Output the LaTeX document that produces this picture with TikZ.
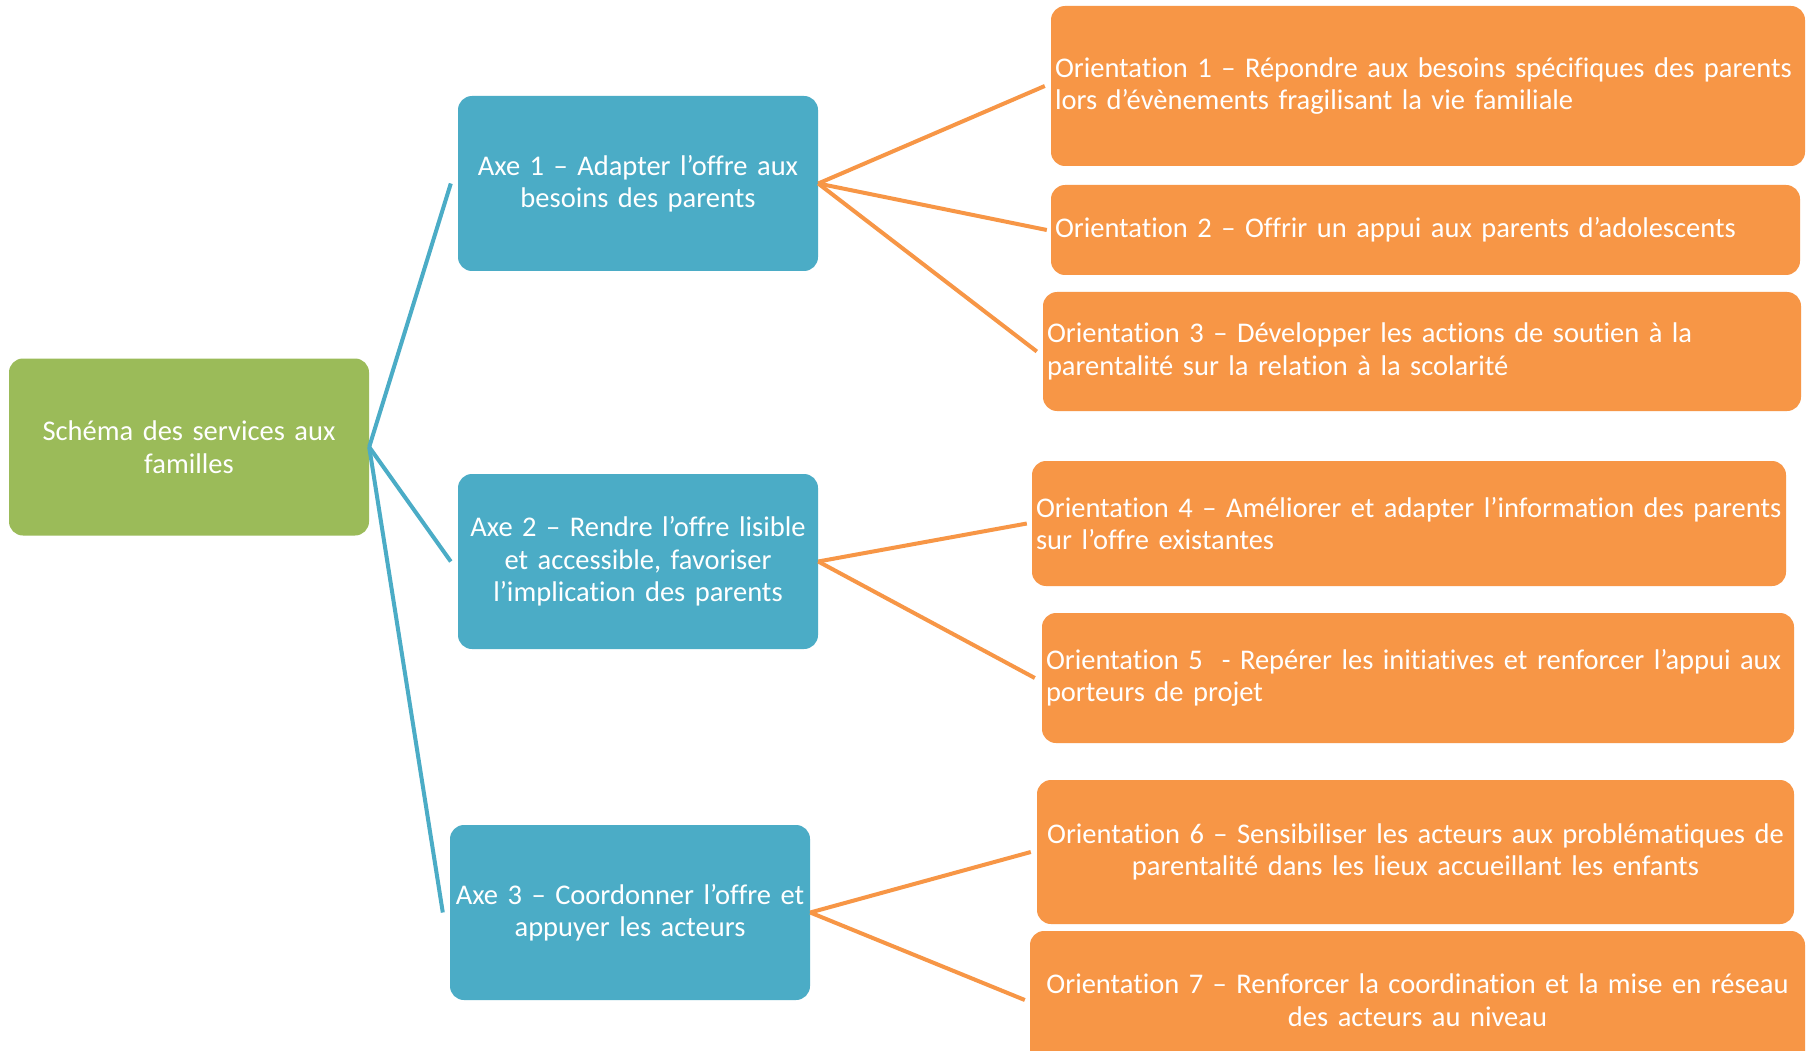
\documentclass[tikz,border=0pt]{standalone}
\usepackage{fontspec}
\setmainfont{Carlito}[RawFeature={-liga;-dlig;-calt;-clig}]
\usetikzlibrary{calc}
\definecolor{cgreen}{HTML}{9BBB59}
\definecolor{cblue}{HTML}{4BACC6}
\definecolor{corange}{HTML}{F79646}
\begin{document}
\begin{tikzpicture}[x=1pt,y=-1pt,
  box/.style={rounded corners=14pt, text=white, inner sep=4pt,
    font=\fontsize{28.5}{32.5}\selectfont},
  gbox/.style={box, fill=cgreen, minimum width=360, minimum height=177, text width=352, align=center},
  abox/.style={box, fill=cblue, minimum width=358, minimum height=175, text width=352, align=center},
  obox/.style={box, fill=corange},
  bline/.style={draw=cblue, line width=4pt},
  oline/.style={draw=corange, line width=4pt}]
\clip (0,0) rectangle (1808,1051);
\fill[white] (0,0) rectangle (1808,1051);
% nodes
\node[gbox] (g) at (189,447) {Schéma des services aux\\familles};
\node[abox] (a1) at (638,183.5) {Axe 1 – Adapter l’offre aux\\besoins des parents};
\node[abox] (a2) at (638,561.5) {Axe 2 – Rendre l’offre lisible\\et accessible, favoriser\\l’implication des parents};
\node[abox] (a3) at (630,912.5) {Axe 3 – Coordonner l’offre et\\appuyer les acteurs};
\node[obox, minimum width=754, minimum height=160, text width=746, align=left] (o1) at (1428,86)
  {Orientation 1 – Répondre aux besoins spécifiques des parents\\lors d’évènements fragilisant la vie familiale};
\node[obox, minimum width=749, minimum height=90, text width=741, align=left] (o2) at (1425.5,230)
  {Orientation 2 – Offrir un appui aux parents d’adolescents};
\node[obox, minimum width=758, minimum height=119, text width=750, align=left] (o3) at (1422,351.5)
  {Orientation 3 – Développer les actions de soutien à la\\parentalité sur la relation à la scolarité};
\node[obox, minimum width=754, minimum height=125, text width=746, align=left] (o4) at (1409,523.5)
  {Orientation 4 – Améliorer et adapter l’information des parents\\sur l’offre existantes};
\node[obox, minimum width=752, minimum height=130, text width=744, align=left] (o5) at (1418,678)
  {Orientation 5\ \ - Repérer les initiatives et renforcer l’appui aux\\porteurs de projet};
\node[obox, minimum width=757, minimum height=144, text width=749, align=center] (o6) at (1415.5,852)
  {Orientation 6 – Sensibiliser les acteurs aux problématiques de\\parentalité dans les lieux accueillant les enfants};
\node[obox, minimum width=775, minimum height=138, text width=767, align=center] (o7) at (1417.5,1000)
  {Orientation 7 – Renforcer la coordination et la mise en réseau\\des acteurs au niveau};
% connector ends
\coordinate (ga1) at ($(a1.west)+(-7,0)$);
\coordinate (ga2) at ($(a2.west)+(-7,0)$);
\coordinate (ga3) at ($(a3.west)+(-7,0)$);
\coordinate (e1) at ($(o1.west)+(-6,0)$);
\coordinate (e2) at ($(o2.west)+(-4,0)$);
\coordinate (e3) at ($(o3.west)+(-6,0)$);
\coordinate (e4) at ($(o4.west)+(-5,0)$);
\coordinate (e5) at ($(o5.west)+(-7,0)$);
\coordinate (e6) at ($(o6.west)+(-6,0)$);
\coordinate (e7) at ($(o7.west)+(-5,0)$);
% connectors
\draw[bline] (g.east) -- (ga1);
\draw[bline] (g.east) -- (ga2);
\draw[bline] (g.east) -- (ga3);
\draw[oline] (a1.east) -- (e1);
\draw[oline] (a1.east) -- (e2);
\draw[oline] (a1.east) -- (e3);
\draw[oline] (a2.east) -- (e4);
\draw[oline] (a2.east) -- (e5);
\draw[oline] (a3.east) -- (e6);
\draw[oline] (a3.east) -- (e7);
\end{tikzpicture}
\end{document}
